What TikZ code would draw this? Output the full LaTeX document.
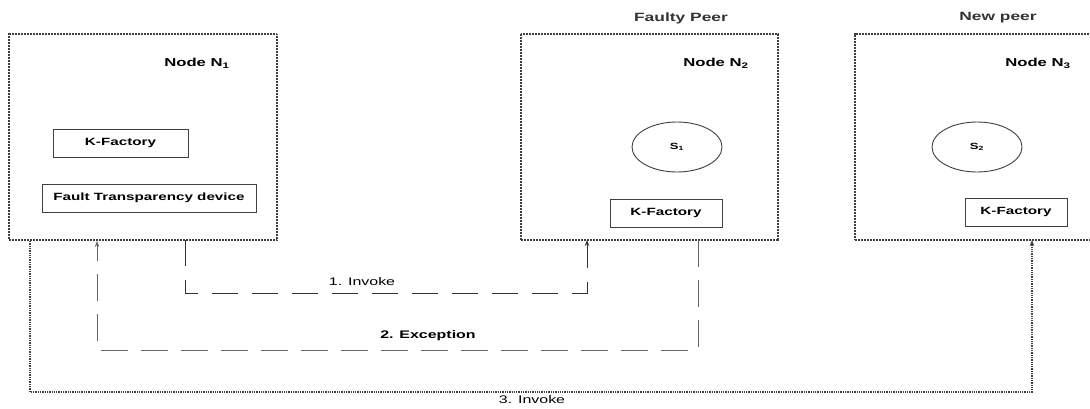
\documentclass[tikz,border=0pt]{standalone}
\usepackage{fontspec}
\setmainfont{Liberation Sans}[FakeStretch=1.45]
\usepackage{tikz}
\usetikzlibrary{positioning}
\usetikzlibrary{arrows.meta}
\usetikzlibrary{shapes.geometric}
\newcommand\peerbox[4]{%
\node[peer, minimum width=#3, minimum height=206pt, anchor=north west] (#1) at (#2) {#4};
}
\newcommand\nodelabel[3]{%
\node[nodetext] (#1) at (#2) {Node N\textsubscript{#3}};
}

\begin{document}
\begin{tikzpicture}[x=1pt,y=-1pt,
	peer/.style={draw=black!75, line width=1.5pt, dash pattern=on 1pt off 0.5pt},
	part/.style={draw=black!75, line width=0.9pt, minimum height=28pt, inner sep=0pt, font=\bfseries\fontsize{10.5}{12}\selectfont},
	service/.style={ellipse, draw=black!75, line width=0.9pt, minimum width=90pt, minimum height=50pt, inner sep=0pt, font=\bfseries\fontsize{9}{10}\selectfont},
	nodetext/.style={font=\bfseries\fontsize{11.5}{13}\selectfont},
	peertext/.style={font=\bfseries\fontsize{12}{14}\selectfont, text=black!80},
	msgtext/.style={font=\fontsize{11}{13}\selectfont},
	invline/.style={draw=black!80, line width=0.9pt, dash pattern=on 26pt off 14pt},
	excline/.style={draw=black!60, line width=1pt, dash pattern=on 27pt off 13pt},
	newline/.style={draw=black!75, line width=1.3pt, densely dotted},
	tip/.style={-{Stealth[length=6pt,width=4.5pt]}}]
	%% page size
	\useasboundingbox (0,0) rectangle (1090,408);

	%% the three peers
	\peerbox{n1box}{8,33}{268pt}{}
	\peerbox{n2box}{520,33}{257pt}{}
	\peerbox{n3box}{854,33}{240pt}{}

	\node[peertext] (faulty) at (681,18) {Faulty Peer};
	\node[peertext] (newpeer) at (998,18) {New peer};

	\nodelabel{lab1}{197,63}{1}
	\nodelabel{lab2}{716,63}{2}
	\nodelabel{lab3}{1038,63}{3}

	% node N1
	\node[part, minimum width=135pt] (kf1) at (120.5,143) {K-Factory};
	\node[part, minimum width=214pt] (ftd) at (149,198) {Fault Transparency device};

	% node N2
	\node[service] (s1) at (677,147) {S\textsubscript{1}};
	\node[part, minimum width=112pt] (kf2) at (666,213) {K-Factory};

	% node N3
	\node[service] (s2) at (977,147) {S\textsubscript{2}};
	\node[part, minimum width=102pt] (kf3) at (1016,212) {K-Factory};

	%% connectors
	\coordinate (inv1s) at (185,240);
	\coordinate (inv1e) at (587,240);
	\coordinate (excs) at (698,240);
	\coordinate (exce) at (97,241);
	\coordinate (inv3s) at (30,241);
	\coordinate (inv3e) at (1032,240);

	\draw[invline, tip] (inv1s) -- ++(0,53) -| (inv1e);
	\draw[excline, tip] (excs) -- ++(0,110) -| (exce);
	\draw[newline, tip] (inv3s) -- ++(0,151) -| (inv3e);

	\node[msgtext] (msg1) at (362,282) {1. Invoke};
	\node[msgtext, font=\bfseries\fontsize{11}{13}\selectfont] (msg2) at (428,336) {2. Exception};
	\node[msgtext] (msg3) at (532,400) {3. Invoke};
\end{tikzpicture}
\end{document}
